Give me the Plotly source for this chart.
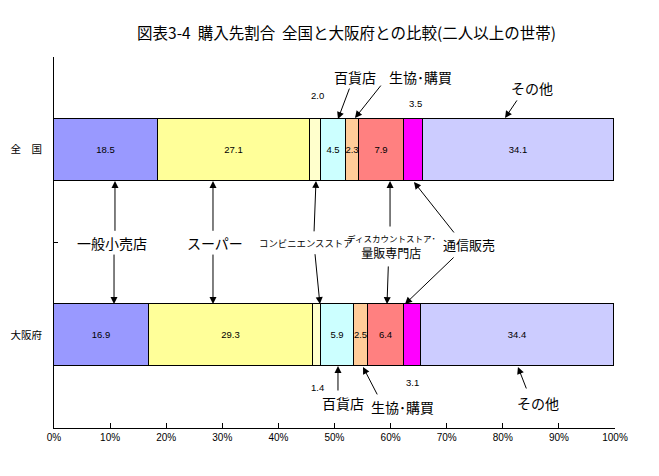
import plotly.graph_objects as go
import numpy as np

categories = ['一般小売店', 'スーパー', 'コンビニエンスストア', '百貨店', '生協･購買',
              'ディスカウントストア･量販専門店', '通信販売', 'その他']
regions = ['大阪府', '全　国']          # y = 0, 1
zenkoku = [18.5, 27.1, 2.0, 4.5, 2.3, 7.9, 3.5, 34.1]
osaka = [16.9, 29.3, 1.4, 5.9, 2.5, 6.4, 3.1, 34.4]
colors = ['#9999FF', '#FFFF99', '#FFFFCC', '#CCFFFF', '#FFCC99', '#FF8080', '#FF00FF', '#CCCCFF']
x_ticks = [0, 10, 20, 30, 40, 50, 60, 70, 80, 90, 100]
x_tick_labels = [f'{v}%' for v in x_ticks]
title_text = '図表3-4  購入先割合  全国と大阪府との比較(二人以上の世帯)'
outside_cats = ['コンビニエンスストア', '通信販売']

JP = 'Noto Sans CJK JP'
NUM = 'Liberation Sans'

fig = go.Figure()
for i, cat in enumerate(categories):
    vals = [osaka[i], zenkoku[i]]
    txt = ['' if cat in outside_cats else f'{v:.1f}' for v in vals]
    fig.add_trace(go.Bar(
        y=[0, 1], x=vals, orientation='h', name=cat, width=0.334,
        marker=dict(color=colors[i], line=dict(color='black', width=1)),
        text=txt, textposition='inside', insidetextanchor='middle', textangle=0,
        textfont=dict(family=NUM, size=9.5, color='black'),
        hoverinfo='skip', showlegend=False))

ann = []
# outside numeric labels
cz = np.cumsum([0] + zenkoku)
co = np.cumsum([0] + osaka)
out_y = {'コンビニエンスストア': (1.29, -0.279), '通信販売': (1.252, -0.252)}
for cat in outside_cats:
    i = categories.index(cat)
    ann.append(dict(x=(cz[i] + cz[i + 1]) / 2 + 0.3, y=out_y[cat][0], text=f'{zenkoku[i]:.1f}',
                    showarrow=False, font=dict(family=NUM, size=9.5, color='black')))
    ann.append(dict(x=(co[i] + co[i + 1]) / 2, y=out_y[cat][1], text=f'{osaka[i]:.1f}',
                    showarrow=False, font=dict(family=NUM, size=9.5, color='black')))


def arrow(tail, head):
    ann.append(dict(x=head[0], y=head[1], ax=tail[0], ay=tail[1], axref='x', ayref='y',
                    text='', showarrow=True, arrowhead=2, arrowsize=1.4, arrowwidth=1,
                    arrowcolor='black', standoff=0, startstandoff=0))


def label(x, y, text, size=14):
    ann.append(dict(x=x, y=y, text=text, showarrow=False,
                    font=dict(family=JP, size=size, color='black')))


# top labels
label(53.65, 1.392, '百貨店', 14)
arrow((52.76, 1.338), (50.62, 1.166))
label(65.4, 1.392, '生協･購買', 14)
arrow((58.47, 1.354), (53.65, 1.171))
label(85.2, 1.333, 'その他', 14)
arrow((82.7, 1.274), (80.4, 1.171))

# bottom labels
label(51.5, -0.365, '百貨店', 14)
arrow((50.62, -0.306), (50.62, -0.166))
label(62.2, -0.387, '生協･購買', 14)
arrow((57.75, -0.327), (55.08, -0.171))
label(86.3, -0.365, 'その他', 14)
arrow((84.3, -0.295), (82.7, -0.171))

# middle labels
label(10.3, 0.5, '一般小売店', 14)
arrow((10.87, 0.555), (10.87, 0.832))
arrow((10.7, 0.443), (10.7, 0.168))
label(28.7, 0.5, 'スーパー', 14)
arrow((28.34, 0.555), (28.34, 0.832))
arrow((28.34, 0.443), (28.34, 0.168))
label(45.0, 0.5, 'コンビニエンスストア', 9.4)
arrow((46.35, 0.552), (46.7, 0.832))
arrow((46.5, 0.445), (47.4, 0.168))
label(60.2, 0.481, "<span style='font-size:8.5px'>ディスカウントストア･</span><br>量販専門店", 12)
arrow((59.9, 0.578), (59.9, 0.832))
arrow((59.6, 0.379), (59.36, 0.168))
label(74.0, 0.487, '通信販売', 13)
arrow((71.5, 0.546), (64.17, 0.826))
arrow((71.5, 0.427), (62.57, 0.168))

# the page body has an 8px margin, so the figure is sized/shifted to compensate
fig.update_layout(
    width=651, height=468,
    margin=dict(l=46, r=44, t=49, b=48),
    paper_bgcolor='white', plot_bgcolor='white',
    barmode='stack', bargap=0,
    title=dict(text=title_text, x=0.52, xanchor='center', y=0.945, yanchor='middle',
               font=dict(family=JP, size=15.5, color='black')),
    xaxis=dict(range=[0, 100], tickvals=x_ticks, ticktext=x_tick_labels,
               ticks='inside', ticklen=5, tickcolor='black', showline=True, linecolor='black',
               linewidth=1, showgrid=False, zeroline=False,
               tickfont=dict(family=NUM, size=10, color='black')),
    yaxis=dict(range=[-0.5, 1.5], tickvals=[0, 1], ticktext=regions, ticks='',
               showline=True, linecolor='black', linewidth=1, showgrid=False, zeroline=False,
               ticklabelstandoff=9, automargin=False,
               minor=dict(tickvals=[0.5], ticks='inside', ticklen=4, tickcolor='black'),
               tickfont=dict(family=JP, size=10.5, color='black')),
    annotations=ann,
    uniformtext=dict(minsize=9, mode='show'),
)

fig.write_html('out.html')
